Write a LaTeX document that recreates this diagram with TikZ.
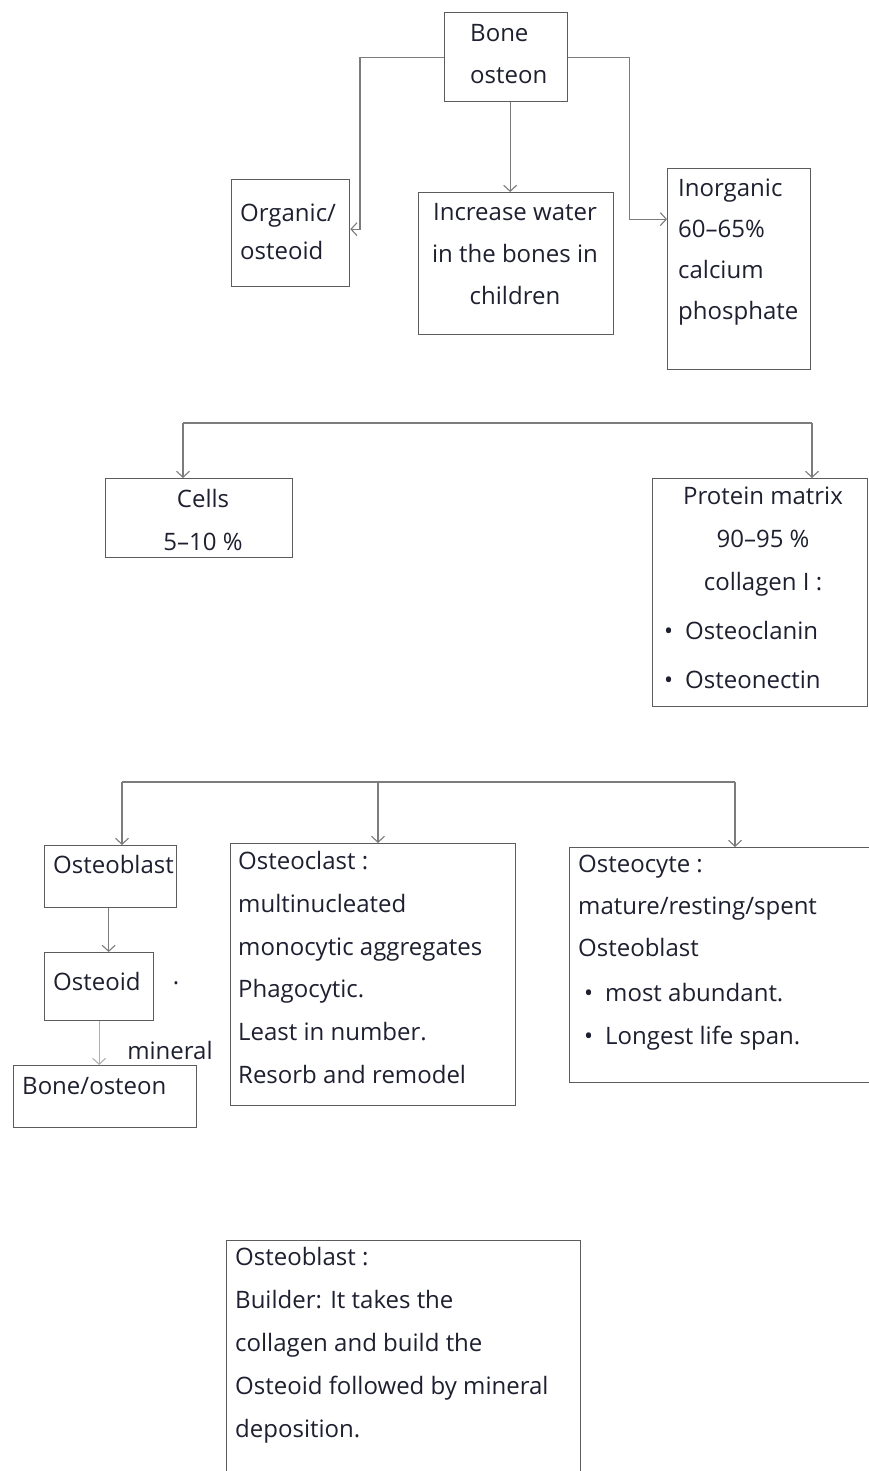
\documentclass[tikz,border=0pt]{standalone}
\usepackage{fontspec}
\setmainfont{Open Sans}
\usetikzlibrary{arrows.meta}
\definecolor{ink}{HTML}{1E2030}
\definecolor{edge}{HTML}{5C5C5C}
\definecolor{wire}{HTML}{7C7C7C}

\begin{document}
\begin{tikzpicture}[x=1pt,y=-1pt,
  box/.style={draw=edge,line width=1.3pt,anchor=north west,inner sep=0pt},
  txt/.style={anchor=north west,inner sep=0pt,align=left,text=ink,font=\fontsize{24}{42}\selectfont},
  ctxt/.style={txt,anchor=north,align=center},
  conn/.style={draw=wire,line width=1.1pt,-{Straight Barb[length=6pt,width=13pt]}}]
\clip (0,0) rectangle (869,1471);
\fill[white] (0,0) rectangle (869,1471);
% top level
\node[box,minimum width=123pt,minimum height=89pt] (bone) at (444,12) {};
\node[box,minimum width=118pt,minimum height=107pt] (organic) at (231,179) {};
\node[box,minimum width=195pt,minimum height=142pt] (water) at (418,192) {};
\node[box,minimum width=143pt,minimum height=201pt] (inorg) at (667,168) {};
\node[txt] (bonet) at (470,24) {Bone\\osteon};
\node[txt,font=\fontsize{24}{38}\selectfont] (organict) at (240,204) {Organic/\\osteoid};
\node[ctxt] (watert) at (515,203) {Increase water\\in the bones in\\children};
\node[txt,font=\fontsize{24}{41}\selectfont] (inorgt) at (678,179) {Inorganic\\60--65\%\\calcium\\phosphate};
\draw[conn] (bone.west) -- ++(-84,0) |- ([yshift=4pt]organic.east);
\draw[conn] ([xshift=4pt]bone.south) -- ([xshift=4pt]bone.south |- water.north);
\draw[conn] (bone.east) -- ++(61,0) |- ([yshift=50pt]inorg.west);
% organic part
\coordinate (busa) at (183,423);
\coordinate (busb) at (812,423);
\node[box,minimum width=187pt,minimum height=79pt] (cells) at (105,478) {};
\node[box,minimum width=215pt,minimum height=228pt] (prot) at (652,478) {};
\node[ctxt,font=\fontsize{24}{43}\selectfont] (cellst) at (203,489) {Cells\\5--10 \%};
\node[ctxt,font=\fontsize{24}{43}\selectfont] (prott) at (763,487) {Protein matrix\\90--95 \%\\collagen I :};
\node[txt,font=\fontsize{24}{49}\selectfont] (protl) at (664,621) {•\hspace{12pt}Osteoclanin\\•\hspace{12pt}Osteonectin};
\draw[wire,line width=1.1pt] (busa) -- (busb);
\draw[conn] (busa) -- (busa |- cells.north);
\draw[conn] (busb) -- (busb |- prot.north);
% cells
\coordinate (busc) at (122,782);
\coordinate (busd) at (378,782);
\coordinate (buse) at (735,782);
\node[box,minimum width=132pt,minimum height=62pt] (oblast) at (44,845) {};
\node[box,minimum width=109pt,minimum height=68pt] (oid) at (44,952) {};
\node[box,minimum width=183pt,minimum height=62pt] (bone2) at (13,1065) {};
\node[box,minimum width=285pt,minimum height=262pt] (oclast) at (230,843) {};
\node[box,minimum width=300pt,minimum height=235pt] (ocyte) at (569,847) {};
\node[txt] (oblastt) at (53,855) {Osteoblast};
\node[txt] (oidt) at (53,972) {Osteoid};
\node[txt,anchor=center] (dot) at (176,983) {.};
\node[txt] (bone2t) at (22,1077) {Bone/osteon};
\node[txt,anchor=center] (minl) at (170,1050) {mineral};
\node[txt,font=\fontsize{24}{42.8}\selectfont] (oclastt) at (238,851) {Osteoclast :\\multinucleated\\monocytic aggregates\\Phagocytic.\\Least in number.\\Resorb and remodel};
\node[txt] (ocytet) at (578,855) {Osteocyte :\\mature/resting/spent\\Osteoblast};
\node[txt,font=\fontsize{24}{43}\selectfont] (ocytel) at (584,983) {•\hspace{12pt}most abundant.\\•\hspace{12pt}Longest life span.};
\draw[wire,line width=1.1pt] (busc) -- (buse);
\draw[conn] (busc) -- (busc |- oblast.north);
\draw[conn] (busd) -- (busd |- oclast.north);
\draw[conn] (buse) -- (buse |- ocyte.north);
\draw[conn] ([xshift=-2pt]oblast.south) -- ([xshift=-2pt]oblast.south |- oid.north);
\draw[conn,draw=wire!60] (oid.south) -- (oid.south |- bone2.north);
% note
\node[box,minimum width=354pt,minimum height=260pt] (note) at (226,1240) {};
\node[txt,font=\fontsize{24}{43}\selectfont] (notet) at (235,1247) {Osteoblast :\\Builder: It takes the\\collagen and build the\\Osteoid followed by mineral\\deposition.};
\end{tikzpicture}
\end{document}
